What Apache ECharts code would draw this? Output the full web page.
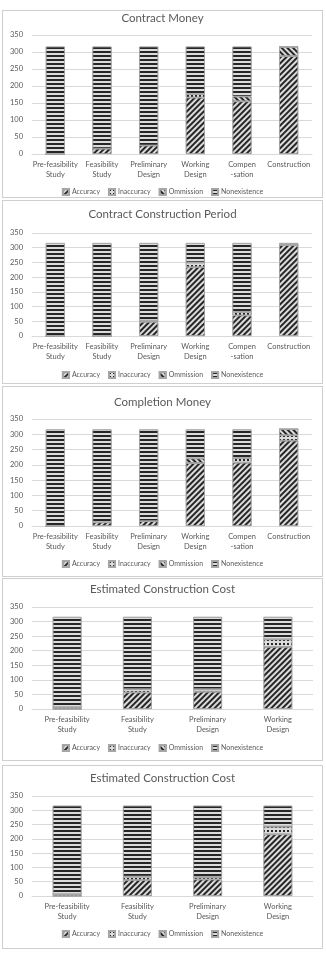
<!DOCTYPE html>
<html lang="en">
<head>
<meta charset="UTF-8">
<title>Charts</title>
<script src="https://cdnjs.cloudflare.com/ajax/libs/echarts/6.0.0/echarts.min.js"></script>
<style>
    body { margin: 0; background: #fff; }
    .panel {
        position: absolute;
        left: 2px;
        width: 321px;
        box-sizing: border-box;
        border: 1px solid #cfcfcf;
    }
</style>
</head>
<body>
<div class="panel" id="c1" style="top:10px;height:188px"></div>
<div class="panel" id="c2" style="top:200px;height:184px"></div>
<div class="panel" id="c3" style="top:386px;height:191px"></div>
<div class="panel" id="c4" style="top:578px;height:183px"></div>
<div class="panel" id="c5" style="top:765px;height:184px"></div>

<script>
    // categories
    const stages6 = ['Pre-feasibility\nStudy', 'Feasibility\nStudy', 'Preliminary\nDesign', 'Working\nDesign', 'Compen\n-sation', 'Construction'];
    const stages4 = ['Pre-feasibility\nStudy', 'Feasibility\nStudy', 'Preliminary\nDesign', 'Working\nDesign'];
    const legendNames = ['Accuracy', 'Inaccuracy', 'Ommission', 'Nonexistence'];
    const yTicks = [0, 50, 100, 150, 200, 250, 300, 350];

    // Contract Money
    const cmAccuracy = [0, 16, 25, 166, 155, 288];
    const cmInaccuracy = [0, 0, 0, 10, 0, 0];
    const cmOmmission = [0, 0, 0, 0, 14, 27];
    const cmNonexistence = [316, 300, 291, 140, 147, 1];

    // Contract Construction Period
    const cpAccuracy = [0, 0, 48, 234, 70, 310];
    const cpInaccuracy = [0, 0, 4, 16, 12, 0];
    const cpOmmission = [0, 0, 0, 0, 0, 0];
    const cpNonexistence = [316, 316, 264, 66, 234, 6];

    // Completion Money
    const compAccuracy = [0, 12, 16, 206, 207, 279];
    const compInaccuracy = [0, 0, 0, 0, 15, 18];
    const compOmmission = [0, 0, 0, 15, 0, 20];
    const compNonexistence = [316, 304, 300, 95, 94, 0];

    // Estimated Construction Cost (first)
    const ecAccuracy = [0, 57, 59, 213];
    const ecInaccuracy = [6, 11, 9, 26];
    const ecOmmission = [0, 0, 0, 0];
    const ecNonexistence = [310, 248, 248, 77];

    // Estimated Construction Cost (second)
    const ec2Accuracy = [0, 56, 58, 216];
    const ec2Inaccuracy = [6, 12, 9, 27];
    const ec2Ommission = [0, 0, 0, 0];
    const ec2Nonexistence = [310, 248, 249, 73];

    const ink = '#262626';
    const decals = {
        Accuracy: { symbol: 'rect', symbolSize: 1, dashArrayX: [[1, 0]], dashArrayY: [2, 1.6], rotation: -Math.PI / 4, color: ink },
        Inaccuracy: { symbol: 'rect', symbolSize: 1, dashArrayX: [1.5, 1.5], dashArrayY: [1.5, 1.5], rotation: 0, color: ink },
        Ommission: { symbol: 'rect', symbolSize: 1, dashArrayX: [[1, 0]], dashArrayY: [2, 1.6], rotation: Math.PI / 4, color: ink },
        Nonexistence: { symbol: 'rect', symbolSize: 1, dashArrayX: [[1, 0]], dashArrayY: [1.6, 1.4], rotation: 0, color: ink }
    };

    const font = 'Lato, "Open Sans", sans-serif';

    function build(id, title, cats, values, lay) {
        const chart = echarts.init(document.getElementById(id), null, { renderer: 'canvas' });
        const series = legendNames.map((name, i) => ({
            name: name,
            type: 'bar',
            stack: 'all',
            barWidth: '41%',
            animation: false,
            itemStyle: {
                color: '#dcdcdc',
                borderColor: '#a6a6a6',
                borderWidth: 0.8,
                decal: decals[name]
            },
            data: values[i]
        }));
        chart.setOption({
            title: {
                text: title,
                left: 'center',
                top: lay.titleTop,
                padding: 0,
                textStyle: { fontFamily: font, fontSize: 11.5, fontWeight: 'normal', color: '#595959' }
            },
            legend: {
                data: legendNames,
                bottom: lay.legendBottom,
                left: 'center',
                padding: 0,
                icon: 'rect',
                itemWidth: 6,
                itemHeight: 6,
                itemGap: 8,
                textStyle: { fontFamily: font, fontSize: 7, color: '#595959', padding: [0, 0, 0, -2] }
            },
            grid: { left: 29, right: lay.right, top: lay.top, height: lay.h },
            xAxis: {
                type: 'category',
                data: cats,
                axisTick: { show: false },
                axisLine: { lineStyle: { color: '#d9d9d9' } },
                axisLabel: { fontFamily: font, fontSize: 7.5, color: '#595959', lineHeight: 10, margin: 6, interval: 0 }
            },
            yAxis: {
                type: 'value',
                min: yTicks[0],
                max: yTicks[yTicks.length - 1],
                interval: yTicks[1] - yTicks[0],
                axisLabel: { fontFamily: font, fontSize: 7.5, color: '#595959', margin: 9 },
                splitLine: { lineStyle: { color: '#d9d9d9' } }
            },
            series: series
        });
    }

    build('c1', 'Contract Money', stages6, [cmAccuracy, cmInaccuracy, cmOmmission, cmNonexistence],
        { titleTop: 1, top: 24, h: 119, right: 10, legendBottom: 1 });
    build('c2', 'Contract Construction Period', stages6, [cpAccuracy, cpInaccuracy, cpOmmission, cpNonexistence],
        { titleTop: 7, top: 32, h: 103, right: 10, legendBottom: 4 });
    build('c3', 'Completion Money', stages6, [compAccuracy, compInaccuracy, compOmmission, compNonexistence],
        { titleTop: 9, top: 32, h: 107, right: 10, legendBottom: 8 });
    build('c4', 'Estimated Construction Cost', stages4, [ecAccuracy, ecInaccuracy, ecOmmission, ecNonexistence],
        { titleTop: 4, top: 28, h: 102, right: 9, legendBottom: 8 });
    build('c5', 'Estimated Construction Cost', stages4, [ec2Accuracy, ec2Inaccuracy, ec2Ommission, ec2Nonexistence],
        { titleTop: 6, top: 30, h: 100, right: 9, legendBottom: 10 });
</script>
</body>
</html>
